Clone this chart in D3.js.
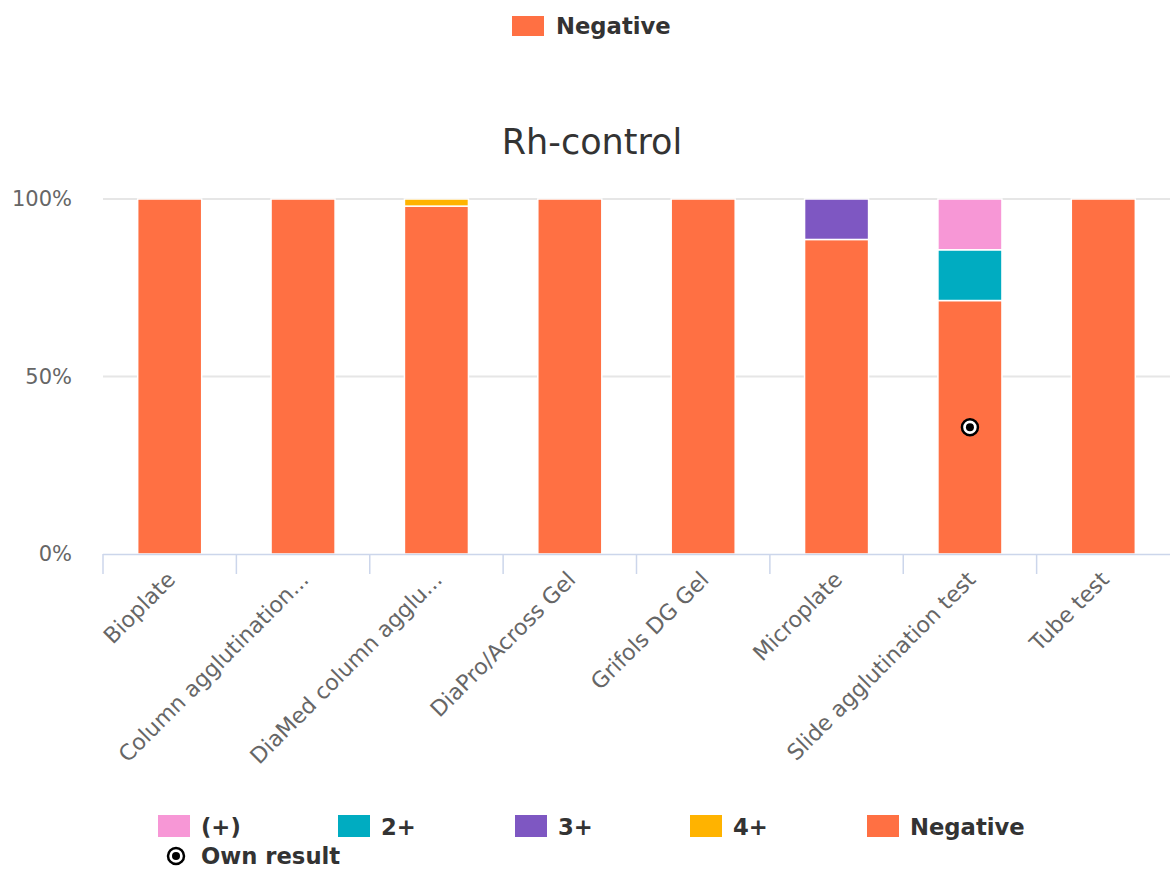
<!DOCTYPE html>
<html><head><meta charset="utf-8">
<script src="https://cdn.jsdelivr.net/npm/d3@7"></script>
<style>
html,body{margin:0;padding:0;background:#fff;}
svg{display:block;font-family:"DejaVu Sans",sans-serif;}
</style></head>
<body><svg id="chart" width="1170" height="873"></svg>
<script>
const categories = ["Bioplate","Column agglutination...","DiaMed column agglu...","DiaPro/Across Gel","Grifols DG Gel","Microplate","Slide agglutination test","Tube test"];
const seriesNames = ["(+)","2+","3+","4+","Negative"];
const seriesColors = ["#f797d6","#00acc1","#7e57c2","#ffb300","#ff7043"];
const plus1    = [0,0,0,0,0,0,14.3,0];
const plus2    = [0,0,0,0,0,0,14.3,0];
const plus3    = [0,0,0,0,0,11.4,0,0];
const plus4    = [0,0,2,0,0,0,0,0];
const negative = [100,100,98,100,100,88.6,71.4,100];
const ownResultCategory = "Slide agglutination test";
const ownResultSeries = "Negative";
const yTicks = [0,50,100];
const title = "Rh-control";

const svg = d3.select("#chart");
const M = {left:103, right:1170, top:199, bottom:554};

const x = d3.scaleBand().domain(categories).range([M.left, M.right]).paddingInner(0.52).paddingOuter(0.26);
const xTickScale = d3.scaleBand().domain(categories).range([M.left, M.right]);
const y = d3.scaleLinear().domain([0,100]).range([M.bottom, M.top]);

// gridlines
svg.append("g").selectAll("line").data(yTicks.filter(d=>d>0)).join("line")
  .attr("x1", M.left).attr("x2", M.right).attr("y1", d=>y(d)).attr("y2", d=>y(d))
  .attr("stroke","#e6e6e6").attr("stroke-width",2);

// y labels
svg.append("g").selectAll("text").data(yTicks).join("text")
  .attr("x", 72).attr("y", d=>y(d)+7).attr("text-anchor","end")
  .attr("font-size",21).attr("fill","#666").text(d=>d+"%");

// stacked data
const seriesArrays = [plus1, plus2, plus3, plus4, negative];
const table = categories.map((c,i)=>{ const o={cat:c}; seriesNames.forEach((s,j)=>o[s]=seriesArrays[j][i]); return o; });
const stack = d3.stack().keys(seriesNames.slice().reverse());
const stacked = stack(table);

const g = svg.append("g");
stacked.forEach(layer=>{
  const color = seriesColors[seriesNames.indexOf(layer.key)];
  g.append("g").selectAll("rect").data(layer.filter(d=>d[1]-d[0]>0)).join("rect")
    .attr("x", d=>x(d.data.cat)).attr("width", x.bandwidth())
    .attr("y", d=>y(d[1])).attr("height", d=>y(d[0])-y(d[1]))
    .attr("fill", color).attr("stroke","#fff").attr("stroke-width",1.5);
});

// x axis line + ticks
svg.append("line").attr("x1",M.left).attr("x2",M.right).attr("y1",M.bottom+0.5).attr("y2",M.bottom+0.5)
  .attr("stroke","#ccd6eb").attr("stroke-width",1.5);
const tickPos = categories.map(c=>xTickScale(c));
svg.append("g").selectAll("line").data(tickPos).join("line")
  .attr("x1",d=>d).attr("x2",d=>d).attr("y1",M.bottom).attr("y2",M.bottom+20)
  .attr("stroke","#ccd6eb").attr("stroke-width",1.5);

// x labels
svg.append("g").selectAll("text").data(categories).join("text")
  .attr("transform", c=>`translate(${x(c)+x.bandwidth()/2+7},${M.bottom+27}) rotate(-45)`)
  .attr("text-anchor","end").attr("font-size",22).attr("fill","#666").text(c=>c);

// own result marker
function marker(sel, cx, cy){
  sel.append("circle").attr("cx",cx).attr("cy",cy).attr("r",8).attr("fill","#fff").attr("stroke","#000").attr("stroke-width",2.5);
  sel.append("circle").attr("cx",cx).attr("cy",cy).attr("r",4).attr("fill","#000");
}
const ownLayer = stacked.find(l=>l.key===ownResultSeries);
const ownD = ownLayer[categories.indexOf(ownResultCategory)];
marker(svg, x(ownResultCategory)+x.bandwidth()/2, y((ownD[0]+ownD[1])/2));

// title
svg.append("text").attr("x",592).attr("y",154).attr("text-anchor","middle")
  .attr("font-size",35).attr("fill","#333").text(title);

// top legend
const tl = svg.append("g");
tl.append("rect").attr("x",512).attr("y",16).attr("width",32).attr("height",20).attr("fill",seriesColors[4]);
tl.append("text").attr("x",556).attr("y",34).attr("font-size",22.7).attr("font-weight","bold").attr("fill","#333").text("Negative");

// bottom legend
const legX = [158,338,515,690,867];
const bl = svg.append("g");
seriesNames.forEach((s,i)=>{
  bl.append("rect").attr("x",legX[i]).attr("y",815).attr("width",32).attr("height",22).attr("fill",seriesColors[i]);
  bl.append("text").attr("x",legX[i]+43).attr("y",835).attr("font-size",22.7).attr("font-weight","bold").attr("fill","#333").text(s);
});
marker(bl, 176, 856);
bl.append("text").attr("x",201).attr("y",864).attr("font-size",22.7).attr("font-weight","bold").attr("fill","#333").text("Own result");
</script></body></html>
